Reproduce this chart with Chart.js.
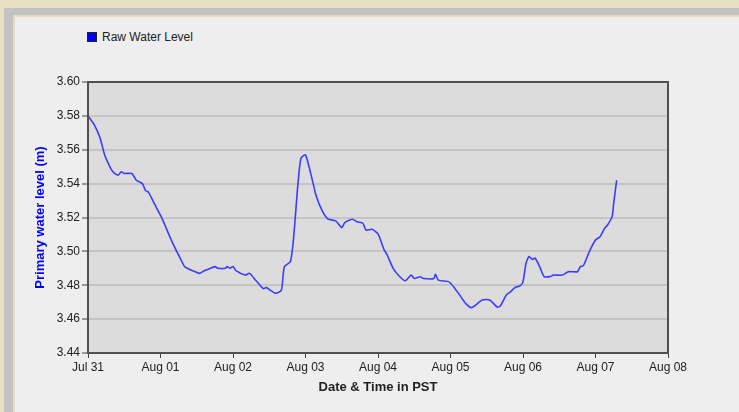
<!DOCTYPE html>
<html>
<head>
<meta charset="utf-8">
<script src="https://cdn.jsdelivr.net/npm/chart.js@4/dist/chart.umd.min.js"></script>
<style>
  body { margin: 0; width: 739px; height: 412px; overflow: hidden; position: relative; background: #e8e0c2; font-family: "Liberation Sans", Arial, sans-serif; }
  .band { position: absolute; left: 4px; top: 8px; right: 0; bottom: 0; background: #c2c2c2; }
  .panel { position: absolute; left: 13px; top: 15px; right: 0; bottom: 0; background: #eeeeee; border-left: 2px solid #e4dcc0; border-top: 2px solid #e4dcc0; }
  #legend { position: absolute; left: 87px; top: 30px; font-size: 12px; color: #222; line-height: 14px; }
  #legend span.box { display: inline-block; width: 8px; height: 8px; background: #0000ff; border: 1px solid #222; vertical-align: -1px; margin-right: 5px; }
  #chart { position: absolute; left: 0; top: 0; }
</style>
</head>
<body>
<div class="band"></div>
<div class="panel"></div>
<div id="legend"><span class="box"></span>Raw Water Level</div>
<canvas id="chart" width="739" height="412"></canvas>
<script>
// hours since Jul 31 00:00 PST
const hours = [0, 2, 4, 5.5, 7.5, 8.5, 10, 11, 12, 14.5, 16, 18, 19, 20, 22, 24.5, 27, 28, 30.5, 32,
  34, 35.5, 37, 38.5, 40, 42, 43, 45.5, 46, 47, 48, 49, 52, 53.5, 55.5, 58, 59, 62, 64, 65,
  67, 68, 69.5, 70.5, 72, 74, 75.5, 77.5, 79.5, 82, 84, 85, 87.5, 89, 91, 92, 94, 96, 98, 99,
  101, 103, 105, 107, 108, 110, 111, 114.5, 115, 116, 119.5, 121.5, 123, 125, 127, 130.5, 133, 135.5, 136.5, 138.5,
  139.5, 141.5, 143, 144, 145, 146, 147, 148, 149.5, 151, 153, 154, 157, 159, 162, 163, 164, 166, 168, 169.5,
  171, 172, 173.5, 174, 175];
const level = [3.580, 3.575, 3.567, 3.557, 3.549, 3.5465, 3.545, 3.547, 3.546, 3.546, 3.542, 3.540, 3.536, 3.535, 3.528, 3.5195, 3.509, 3.505, 3.496, 3.491,
  3.489, 3.488, 3.487, 3.4886, 3.4896, 3.491, 3.490, 3.490, 3.491, 3.490, 3.491, 3.4886, 3.486, 3.487, 3.483, 3.478, 3.4786, 3.4753, 3.477, 3.491,
  3.494, 3.5067, 3.540, 3.555, 3.557, 3.544, 3.533, 3.524, 3.519, 3.518, 3.514, 3.517, 3.519, 3.5175, 3.5166, 3.5126, 3.513, 3.5103, 3.501, 3.498,
  3.490, 3.4855, 3.4827, 3.486, 3.484, 3.485, 3.484, 3.484, 3.4865, 3.483, 3.482, 3.478, 3.4743, 3.4693, 3.4668, 3.4713, 3.4713, 3.467, 3.4678, 3.4743,
  3.4756, 3.4788, 3.4796, 3.482, 3.493, 3.497, 3.4953, 3.496, 3.491, 3.4851, 3.4851, 3.486, 3.486, 3.488, 3.488, 3.491, 3.4916, 3.500, 3.5067, 3.5087,
  3.5136, 3.5156, 3.5205, 3.528, 3.542];
const tickLabels = ["Jul 31", "Aug 01", "Aug 02", "Aug 03", "Aug 04", "Aug 05", "Aug 06", "Aug 07", "Aug 08"];

const plotFrame = {
  id: "plotFrame",
  beforeDraw(chart) {
    const a = chart.chartArea, ctx = chart.ctx;
    ctx.save();
    ctx.fillStyle = "#dcdcdc";
    ctx.fillRect(a.left, a.top, a.right - a.left, a.bottom - a.top);
    ctx.restore();
  },
  afterDatasetsDraw(chart) {
    const a = chart.chartArea, ctx = chart.ctx;
    ctx.save();
    ctx.strokeStyle = "#505050";
    ctx.lineWidth = 2;
    ctx.strokeRect(a.left, a.top, a.right - a.left, a.bottom - a.top);
    ctx.restore();
  }
};

const tickFont = { family: "Liberation Sans", size: 12 };

new Chart(document.getElementById("chart").getContext("2d"), {
  type: "line",
  data: {
    datasets: [{
      label: "Raw Water Level",
      data: hours.map((h, i) => ({ x: h, y: level[i] })),
      borderColor: "#3c3cff",
      borderWidth: 1.6,
      pointRadius: 0,
      tension: 0.2,
      fill: false
    }]
  },
  options: {
    responsive: false,
    animation: false,
    layout: { padding: { top: 82, right: 71, left: 0, bottom: 0 } },
    plugins: { legend: { display: false }, tooltip: { enabled: false } },
    scales: {
      x: {
        type: "linear",
        min: 0,
        max: 192,
        afterFit(s) { s.height = 59; },
        border: { display: false },
        grid: { drawOnChartArea: false, tickLength: 5, tickColor: "#444", tickWidth: 1 },
        ticks: {
          stepSize: 24, autoSkip: false, maxRotation: 0, padding: 2,
          color: "#222", font: tickFont,
          callback: (v) => tickLabels[Math.round(v / 24)]
        },
        title: { display: true, text: "Date & Time in PST", color: "#222",
          font: { family: "Liberation Sans", size: 13, weight: "bold" }, padding: { top: 0, bottom: 17 } }
      },
      y: {
        min: 3.44,
        max: 3.60,
        afterFit(s) { s.width = 88; },
        border: { display: false },
        grid: { color: "#c4c4c4", lineWidth: 2, tickLength: 6, tickColor: "#444", tickWidth: 1 },
        ticks: { stepSize: 0.02, padding: 2, color: "#222", font: tickFont, callback: (v) => v.toFixed(2) },
        title: { display: true, text: "Primary water level (m)", color: "#0000ff",
          font: { family: "Liberation Sans", size: 13, weight: "bold" }, padding: { top: 33, bottom: 0 } }
      }
    }
  },
  plugins: [plotFrame]
});
</script>
</body>
</html>
